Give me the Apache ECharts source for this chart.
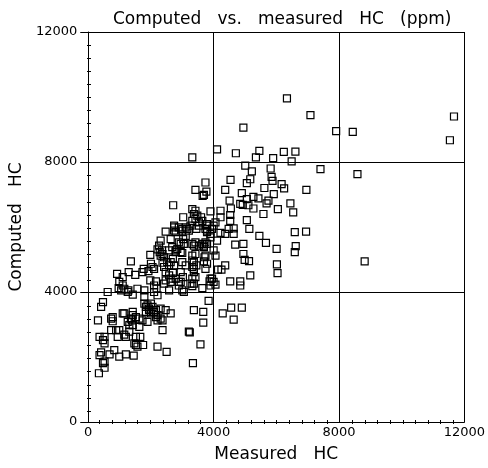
<!DOCTYPE html>
<html><head><meta charset="utf-8">
<script src="https://cdn.jsdelivr.net/npm/echarts@6/dist/echarts.min.js"></script>
<style>html,body{margin:0;padding:0;background:#fff}#c{width:488px;height:468px}</style>
</head><body><div id="c"></div>
<script>
var titleText = 'Computed   vs.   measured   HC   (ppm)';
var xName = 'Measured   HC';
var yName = 'Computed   HC';
var axisTicks = [0, 4000, 8000, 12000];

var sparsePoints = [[6340,9960],[7090,9440],[7910,8950],[8440,8930],[11670,9400],[11540,8670],[7410,7780],[8590,7630],[6960,7140],[6950,5860],[8820,4940],[4950,9060]];

var upperMidPoints = [[4110,8390],[4710,8270],[5460,8340],[5350,8140],[5900,8120],[6240,8310],[6610,8320],[6490,8020],
[5010,7890],[5220,7710],[5820,7800],
[3740,7370],[4540,7450],[5170,7470],[5060,7350],[5850,7540],[5880,7420],[6170,7320],[6250,7190],[5620,7200],[4370,7140],[3770,7090],[3690,6990],[4900,7040],[5270,6930],[5920,7010],
[4510,6810],[5060,6860],[5430,6880],[5750,6810],[4850,6710],[4930,6680],[5110,6670],[5690,6730],[6450,6730],[5270,6570],[6050,6550],[4550,6570],[6540,6450],[3900,6480],[4220,6500],[5590,6400],[4530,6370],[4220,6300],[3600,6300],
[4060,6140],[4530,6190],[5060,6210],[3790,6040],[3950,5940],[4480,5940],[4640,5960],[5140,5940],[3790,5840],[4220,5820],[4370,5790],[4640,5790],[6590,5840],[5460,5730],[3900,5680],[4110,5580],[4690,5460],[4950,5480],[5670,5510],[6620,5410],[6010,5330],[4950,5170],[6590,5230],[4000,5280],[3690,5430],[4060,5120],[3740,5120]];

var lowerMidPoints = [[4990,4990],[5130,4950],[6020,4850],[6040,4580],[5170,4510],[4370,4820],[4250,4690],[4140,4690],[3710,5070],[3690,4940],[3950,4410],[3870,4330],[4060,4230],[4530,4330],[4850,4330],[4850,4200],[3640,4120],[3840,3730],[3670,3390],[3670,3060],[4290,3340],[4560,3520],[4900,3520],[4640,3150],[3580,2390],
[3340,1810],[3240,2760],[2500,2160],[2210,2320],[3370,3440]];

var leftPoints = [[1980,5140],[2280,5230],[2350,5280],[2580,5280],[2790,5280],[3000,5200],[1360,4940],[2000,4870],[2050,4770],[2100,4710],[2370,4900],[2630,4920],[2700,5020],[2700,4590],[920,4560],[1100,4460],[1290,4610],[1500,4530],[1730,4610],[1920,4640],[990,4310],[1100,4200],[970,4120],[1150,4100],[1280,4050],[1570,4100],[1980,4360],[2160,4330],[2100,4200],[2180,4100],[2470,4360],[2420,4260],[2630,4310],[2580,4050],[2890,4310],[3020,4460],[3320,4770],[3370,4610],[3420,4460],[3320,4180],[3000,4050],[3050,4000],
[470,3690],[410,3540],[310,3130],[730,3180],[780,3230],[1100,3340],[1150,3340],[1420,3390],[1420,3290],[1390,3130],[1520,3230],[1630,3180],[1790,3640],[1840,3540],[1890,3590],[1940,3490],[2000,3340],[1840,3390],[1730,3130],[1890,3080],[1630,2930],[1310,2980],[2160,3230],[2210,3130],[2310,3180],[2370,3130],[2210,3290],[2160,3440],[2310,3490],[2470,3440],[2630,3340],[2370,2830],[360,2620],[520,2620],[470,2520],[520,2420],[940,2620],[1200,2620],[1150,2690],[990,2830],[780,3100],[1660,2620],[3210,2780],[360,2060],[410,2140],[680,2080],[830,2210],[990,2010],[1200,2080],[1450,2040],[1520,2370],[1570,2320],[1470,2420],[1750,2370],[470,1810],[520,1860],[520,1670],[340,1500]];

var centerPoints = [[3320,8140],[3420,7140],[3650,6960],[2710,6670],[3320,6550],[3420,6500],[3030,6300],[3320,6190],[3420,6250],[3640,6190],[2740,5990],[2790,5840],[3000,5940],[3160,5940],[3110,5730],[3530,6040],[3740,5940],[2310,5580],[2260,5430],[2630,5630],[2680,5380],[2840,5330],[2790,5230],[2950,5230],[2890,5530],[3050,5480],[3320,5480],[3420,5530],[3370,5430],[3530,5430],[3640,5480],[3690,5380],[2310,5120],
[2470,5860],[2740,5890],[3000,5890],[3210,5890],[3450,5940],[3790,5890],[3900,5790],[2950,5480],[3030,5630],[3740,5530],[3790,5480],[2370,5170],[2420,5070],[3320,5120],[3420,5170],[2520,4920],[2580,4820],[2420,4770],[2740,4820],[3000,4920],[3110,4820],[3320,4970],[3370,4920],[3450,4820],[3370,4710],[3790,4870],[3740,4710],[2470,4610],[2580,4510],[2630,4410],[2950,4610],[3320,4410],[2790,4410],[2950,4310],[2890,4200],[3260,4260],[3370,4260],[3900,4410],[4000,4310],[3900,4200],
[3370,6400],[3480,6350],[3530,6140],[2740,6040],[2890,5990],[3110,5990],[3260,6040],[3790,6090],[4000,6040],
[2210,5310],[1770,4710],
[1790,3850],[2000,3640],[2050,3540],[1940,3440],[2100,3390],[1360,3180],[1260,3080],[1420,2980],[730,2830],[890,2830],[1310,2780],[1520,2620],[620,4000],[1050,4050],[1260,4000],[1420,3920],[1790,4050],[2100,4000],[2210,3900]];

var allPoints = [].concat(sparsePoints, upperMidPoints, lowerMidPoints, leftPoints, centerPoints);

var font = 'DejaVu Sans';
var W = 488, H = 468;
var GRID = {left: 87, right: 22, top: 32, bottom: 44};
var gridW = W - GRID.left - GRID.right;
var gridH = H - GRID.top - GRID.bottom;
function labelFmt(v) { return axisTicks.indexOf(v) >= 0 ? String(v) : ''; }
function valAxis(pos, name, extra) {
  return Object.assign({
    type: 'value', min: 0, max: 12000, interval: 4000, position: pos, gridIndex: 0,
    name: name, nameLocation: 'middle',
    nameTextStyle: {fontFamily: font, fontSize: 17, color: '#000'},
    axisLine: {show: true, onZero: false, lineStyle: {color: '#000', width: 1}},
    splitLine: {show: true, lineStyle: {color: '#000', width: 1}},
    minorTick: {show: false}
  }, extra || {});
}
// helper grids whose edge coincides with the plot edge, so that their axis'
// outward minor ticks point into the plot
function minorAxis(pos, gridIndex) {
  return {
    type: 'value', min: 0, max: 12000, interval: 4000, position: pos, gridIndex: gridIndex,
    axisLine: {show: false, onZero: false}, axisLabel: {show: false}, splitLine: {show: false},
    axisTick: {show: false},
    minorTick: {show: true, splitNumber: 10, length: 4, lineStyle: {color: '#000', width: 1}}
  };
}
function hiddenAxis(gridIndex) {
  return {type: 'value', min: 0, max: 12000, gridIndex: gridIndex, show: false,
    axisLine: {onZero: false}};
}

var chart = echarts.init(document.getElementById('c'), null, {renderer: 'canvas'});
chart.setOption({
  animation: false,
  backgroundColor: '#fff',
  title: {text: titleText, left: 108, top: 6,
    textStyle: {fontFamily: font, fontSize: 17, fontWeight: 'normal', color: '#000'}},
  grid: [
    GRID,
    {left: GRID.left, width: gridW, top: H - GRID.bottom, height: 20},
    {left: GRID.left - 27, width: 27, top: GRID.top, height: gridH}
  ],
  xAxis: [valAxis('bottom', xName, {nameGap: 24,
            axisTick: {show: false},
            axisLabel: {fontFamily: font, fontSize: 13, color: '#000', margin: 4, formatter: labelFmt}}),
          minorAxis('top', 1),
          hiddenAxis(2)],
  yAxis: [valAxis('left', yName, {nameGap: 58,
            axisTick: {show: true, inside: false, length: 8, lineStyle: {color: '#000'}},
            axisLabel: {fontFamily: font, fontSize: 13, color: '#000', margin: 11, formatter: labelFmt}}),
          hiddenAxis(1),
          minorAxis('right', 2)],
  series: [{
    type: 'scatter', xAxisIndex: 0, yAxisIndex: 0,
    symbol: 'rect', symbolSize: 7,
    itemStyle: {color: 'rgba(0,0,0,0)', borderColor: '#000', borderWidth: 1.2, opacity: 1},
    data: allPoints
  }]
});
</script></body></html>
